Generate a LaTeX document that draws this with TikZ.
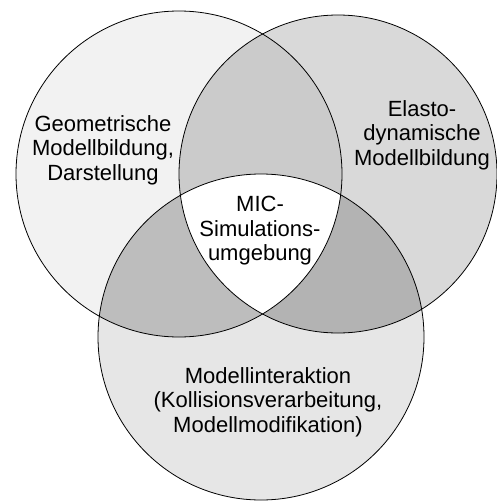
\documentclass[tikz,border=0pt]{standalone}
\usepackage{fontspec}
\setmainfont{Liberation Sans}
\definecolor{fillL}{HTML}{F2F2F2}
\definecolor{fillR}{HTML}{D9D9D9}
\definecolor{fillB}{HTML}{E6E6E6}
\definecolor{fillLR}{HTML}{CBCBCB}
\definecolor{fillLB}{HTML}{BDBDBD}
\definecolor{fillRB}{HTML}{B3B3B3}
\begin{document}
\begin{tikzpicture}[x=1pt,y=-1pt,
  lbl/.style={align=center, font=\fontsize{22}{24.5}\selectfont, inner sep=0pt},
  ring/.style={draw=black, line width=0.8pt}]
\useasboundingbox (0,0) rectangle (497,503);
\fill[white] (0,0) rectangle (497,503);
\coordinate (cl) at (179,174);
\coordinate (cr) at (338,174);
\coordinate (cb) at (261,337);
\def\rl{163pt}\def\rr{159pt}\def\rb{163pt}
% single regions
\fill[fillL] (cl) circle[radius=\rl];
\fill[fillR] (cr) circle[radius=\rr];
\fill[fillB] (cb) circle[radius=\rb];
% pairwise overlaps
\begin{scope}
  \clip (cl) circle[radius=\rl];
  \fill[fillLR] (cr) circle[radius=\rr];
\end{scope}
\begin{scope}
  \clip (cl) circle[radius=\rl];
  \fill[fillLB] (cb) circle[radius=\rb];
\end{scope}
\begin{scope}
  \clip (cr) circle[radius=\rr];
  \fill[fillRB] (cb) circle[radius=\rb];
\end{scope}
% triple overlap
\begin{scope}
  \clip (cl) circle[radius=\rl];
  \clip (cr) circle[radius=\rr];
  \fill[white] (cb) circle[radius=\rb];
\end{scope}
% outlines
\draw[ring] (cl) circle[radius=\rl];
\draw[ring] (cr) circle[radius=\rr];
\draw[ring] (cb) circle[radius=\rb];
% labels
\node[lbl] (geo) at (103,150) {Geometrische\\Modellbildung,\\Darstellung};
\node[lbl] (ela) at (422,135) {Elasto-\\dynamische\\Modellbildung};
\node[lbl] (mic) at (260,231) {MIC-\\Simulations-\\umgebung};
\node[lbl] (mod) at (268,402) {Modellinteraktion\\(Kollisionsverarbeitung,\\Modellmodifikation)};
\end{tikzpicture}
\end{document}
